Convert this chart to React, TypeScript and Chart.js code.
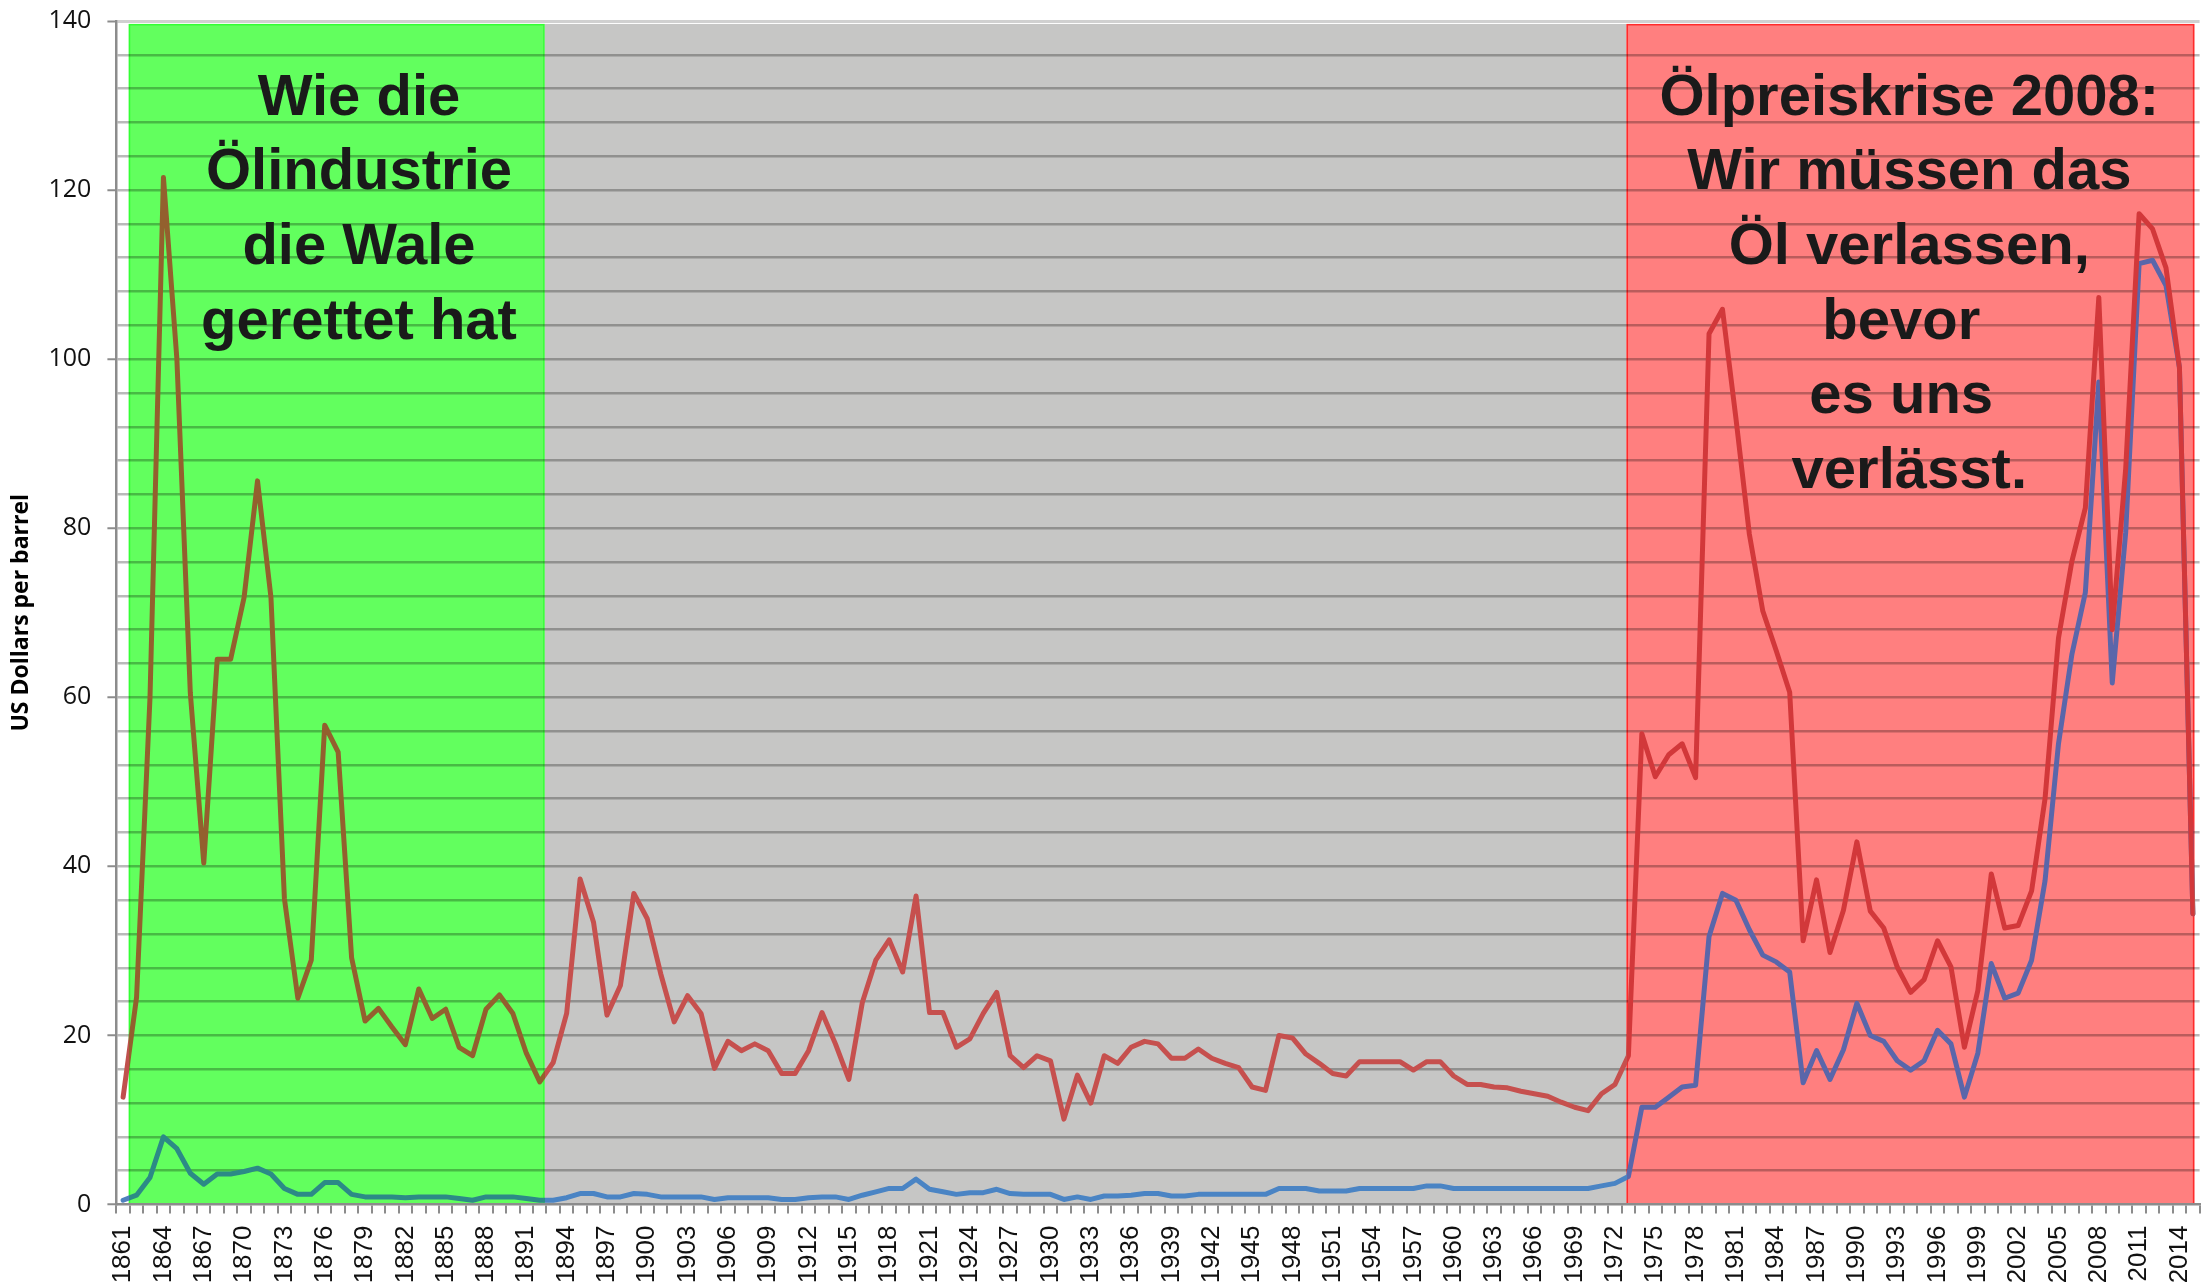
import React, { useEffect, useRef } from 'react';
import { Chart, registerables } from 'chart.js';

Chart.register(...registerables);

// Categories: one per year, 1861 … 2015
const FIRST_YEAR = 1861;
const YEARS: string[] = Array.from({ length: 155 }, (_, i) => String(FIRST_YEAR + i));

// Crude oil price, US$ per barrel (money of the day of the latest year)
const REAL_PRICE = [
  12.7, 24.5, 60.0, 121.5, 100.0, 60.5, 40.4, 64.5, 64.5, 71.8, // 1861-1870
  85.6, 71.8, 36.2, 24.4, 28.9, 56.7, 53.5, 29.2, 21.7, 23.2, // 1871-1880
  21.0, 18.9, 25.5, 22.0, 23.1, 18.6, 17.6, 23.1, 24.8, 22.6, // 1881-1890
  17.9, 14.5, 16.8, 22.6, 38.5, 33.4, 22.4, 25.9, 36.8, 33.8, // 1891-1900
  27.3, 21.6, 24.7, 22.6, 16.1, 19.3, 18.2, 19.0, 18.2, 15.5, // 1901-1910
  15.5, 18.2, 22.7, 19.0, 14.8, 23.9, 28.9, 31.3, 27.5, 36.5, // 1911-1920
  22.7, 22.7, 18.6, 19.6, 22.6, 25.1, 17.6, 16.2, 17.6, 17.0, // 1921-1930
  10.1, 15.3, 12.0, 17.6, 16.7, 18.6, 19.3, 19.0, 17.3, 17.3, // 1931-1940
  18.4, 17.3, 16.7, 16.2, 13.9, 13.5, 20.0, 19.7, 17.8, 16.7, // 1941-1950
  15.5, 15.2, 16.9, 16.9, 16.9, 16.9, 15.9, 16.9, 16.9, 15.2, // 1951-1960
  14.2, 14.2, 13.9, 13.8, 13.4, 13.1, 12.8, 12.1, 11.5, 11.1, // 1961-1970
  13.1, 14.2, 17.6, 55.7, 50.6, 53.2, 54.5, 50.5, 103.0, 105.9, // 1971-1980
  93.0, 79.3, 70.2, 65.5, 60.6, 31.2, 38.4, 29.8, 34.8, 42.9, // 1981-1990
  34.7, 32.7, 28.1, 25.1, 26.6, 31.2, 28.1, 18.6, 25.3, 39.1, // 1991-2000
  32.7, 33.0, 37.1, 48.0, 67.0, 76.1, 82.4, 107.3, 68.0, 87.0, // 2001-2010
  117.2, 115.4, 110.8, 99.0, 34.4, // 2011-2015
];

// Crude oil price, US$ per barrel (money of the day)
const NOMINAL_PRICE = [
  0.5, 1.1, 3.2, 8.0, 6.6, 3.7, 2.4, 3.6, 3.6, 3.9, // 1861-1870
  4.3, 3.6, 1.9, 1.2, 1.2, 2.6, 2.6, 1.2, 0.9, 0.9, // 1871-1880
  0.9, 0.8, 0.9, 0.9, 0.9, 0.7, 0.5, 0.9, 0.9, 0.9, // 1881-1890
  0.7, 0.5, 0.5, 0.8, 1.3, 1.3, 0.9, 0.9, 1.3, 1.2, // 1891-1900
  0.9, 0.9, 0.9, 0.9, 0.6, 0.8, 0.8, 0.8, 0.8, 0.6, // 1901-1910
  0.6, 0.8, 0.9, 0.9, 0.6, 1.1, 1.5, 1.9, 1.9, 3.0, // 1911-1920
  1.8, 1.5, 1.2, 1.4, 1.4, 1.8, 1.3, 1.2, 1.2, 1.2, // 1921-1930
  0.6, 0.9, 0.6, 1.0, 1.0, 1.1, 1.3, 1.3, 1.0, 1.0, // 1931-1940
  1.2, 1.2, 1.2, 1.2, 1.2, 1.2, 1.9, 1.9, 1.9, 1.6, // 1941-1950
  1.6, 1.6, 1.9, 1.9, 1.9, 1.9, 1.9, 2.2, 2.2, 1.9, // 1951-1960
  1.9, 1.9, 1.9, 1.9, 1.9, 1.9, 1.9, 1.9, 1.9, 1.9, // 1961-1970
  2.2, 2.5, 3.3, 11.5, 11.5, 12.7, 13.9, 14.1, 31.7, 36.8, // 1971-1980
  36.0, 32.5, 29.5, 28.7, 27.5, 14.4, 18.2, 14.8, 18.3, 23.8, // 1981-1990
  20.0, 19.3, 17.0, 15.9, 17.0, 20.6, 19.0, 12.7, 17.9, 28.5, // 1991-2000
  24.4, 25.0, 28.9, 38.3, 54.5, 65.1, 72.4, 97.3, 61.7, 79.5, // 2001-2010
  111.3, 111.7, 108.7, 99.0, 34.4, // 2011-2015
];

// Y-axis labels (grid every 4, labels every 20)
const Y_LABELS = [0, 20, 40, 60, 80, 100, 120, 140];

// Highlighted periods (fractional years on the category axis)
const REGION_FROM = [1861.42, 1892.37, 1972.86];
const REGION_TO = [1892.37, 1972.86, 2015.11];
const REGION_TOP = 139.65;
const REGION_FILL = ['#62FF5E', '#C6C6C5', '#FF7F7F'];
const REGION_EDGE = ['#33FF33', '', '#FF2B2B'];

const REAL_COLORS = { base: '#C0504D', region: ['#93602E', '#C6504E', '#D2383A'] };
const NOMINAL_COLORS = { base: '#4F81BD', region: ['#2C8A86', '#4A84C4', '#5A66AA'] };

const LEFT_TEXT = ['Wie die', 'Ölindustrie', 'die Wale', 'gerettet hat'];
const RIGHT_TEXT = ['Ölpreiskrise 2008:', 'Wir müssen das', 'Öl verlassen,', 'bevor ', 'es uns ', 'verlässt.'];
const LEFT_TEXT_YEAR = 1878.55;
const RIGHT_TEXT_YEAR = 1993.9;
const TEXT_FIRST_BASELINE = 128.9;
const TEXT_LINE_STEP = 74.6;

const Y_TITLE = 'US Dollars per barrel';

const idxOf = (year: number) => year - FIRST_YEAR;

function lineGradient(chart: any, colors: { base: string; region: string[] }) {
  const area = chart.chartArea;
  const xs = chart.scales && chart.scales.x;
  if (!area || !xs) return colors.base;
  const w = area.right - area.left;
  const frac = (year: number) =>
    Math.min(1, Math.max(0, (xs.getPixelForValue(idxOf(year)) - area.left) / w));
  const g = chart.ctx.createLinearGradient(area.left, 0, area.right, 0);
  g.addColorStop(0, colors.base);
  REGION_FROM.forEach((from, i) => {
    const f0 = frac(from);
    const f1 = frac(REGION_TO[i]);
    g.addColorStop(f0, colors.base);
    g.addColorStop(f0, colors.region[i]);
    g.addColorStop(f1, colors.region[i]);
    g.addColorStop(f1, colors.base);
  });
  g.addColorStop(1, colors.base);
  return g;
}

const decorations = {
  id: 'decorations',
  beforeDraw(chart: any) {
    const { ctx, scales } = chart;
    const xs = scales.x;
    const ys = scales.y;
    ctx.save();
    ctx.fillStyle = '#ffffff';
    ctx.fillRect(0, 0, chart.width, chart.height);
    const top = ys.getPixelForValue(REGION_TOP);
    const bottom = ys.getPixelForValue(0);
    REGION_FROM.forEach((from, i) => {
      const x0 = xs.getPixelForValue(idxOf(from));
      const x1 = xs.getPixelForValue(idxOf(REGION_TO[i]));
      ctx.fillStyle = REGION_FILL[i];
      ctx.fillRect(x0, top, x1 - x0, bottom - top);
      if (REGION_EDGE[i]) {
        ctx.strokeStyle = REGION_EDGE[i];
        ctx.lineWidth = 1.5;
        ctx.strokeRect(x0 + 0.75, top + 0.75, x1 - x0 - 1.5, bottom - top - 1.5);
      }
    });
    ctx.restore();
  },
  afterDraw(chart: any) {
    const { ctx, scales, chartArea } = chart;
    const xs = scales.x;
    const ys = scales.y;
    ctx.save();
    ctx.fillStyle = '#1a1a1a';
    ctx.textAlign = 'center';
    ctx.textBaseline = 'alphabetic';
    ctx.font = 'bold 58px "Liberation Sans", Arial, sans-serif';
    const y0 = ys.getPixelForValue(TEXT_FIRST_BASELINE);
    const lx = xs.getPixelForValue(idxOf(LEFT_TEXT_YEAR));
    LEFT_TEXT.forEach((t, i) => ctx.fillText(t, lx, y0 + i * TEXT_LINE_STEP));
    const rx = xs.getPixelForValue(idxOf(RIGHT_TEXT_YEAR));
    RIGHT_TEXT.forEach((t, i) => ctx.fillText(t, rx, y0 + i * TEXT_LINE_STEP));

    // y-axis title
    ctx.font = 'bold 23px "Open Sans", sans-serif';
    ctx.fillStyle = '#000000';
    ctx.textBaseline = 'middle';
    ctx.translate(21, (chartArea.top + chartArea.bottom) / 2);
    ctx.rotate(-Math.PI / 2);
    ctx.fillText(Y_TITLE, 0, 0);
    ctx.restore();
  },
};

export default function App() {
  const canvasRef = useRef<HTMLCanvasElement | null>(null);

  useEffect(() => {
    const canvas = canvasRef.current;
    if (!canvas) return;
    const chart = new Chart(canvas, {
      type: 'line',
      data: {
        labels: YEARS,
        datasets: [
          {
            label: 'Real',
            data: REAL_PRICE,
            borderColor: (c: any) => lineGradient(c.chart, REAL_COLORS),
            borderWidth: 5,
            pointRadius: 0,
            tension: 0,
            borderJoinStyle: 'round',
            borderCapStyle: 'round',
            fill: false,
          },
          {
            label: 'Nominal',
            data: NOMINAL_PRICE,
            borderColor: (c: any) => lineGradient(c.chart, NOMINAL_COLORS),
            borderWidth: 5,
            pointRadius: 0,
            tension: 0,
            borderJoinStyle: 'round',
            borderCapStyle: 'round',
            fill: false,
          },
        ],
      },
      options: {
        responsive: false,
        animation: false,
        devicePixelRatio: 1,
        layout: { padding: { top: 21, right: 6.4, left: 0, bottom: 0 } },
        plugins: {
          legend: { display: false },
          tooltip: { enabled: false },
          title: { display: false },
        },
        scales: {
          x: {
            type: 'category',
            offset: true,
            grid: {
              display: true,
              offset: true,
              drawOnChartArea: false,
              drawTicks: true,
              tickLength: 9,
              color: '#8c8c8c',
              lineWidth: 2,
            },
            border: { display: true, color: '#8c8c8c', width: 2.5 },
            ticks: {
              autoSkip: false,
              maxRotation: 90,
              minRotation: 90,
              padding: 12,
              color: '#111111',
              font: { family: '"Liberation Sans", Arial, sans-serif', size: 26 },
              callback: (_v: any, i: number) => (i % 3 === 0 ? YEARS[i] : ''),
            },
            afterFit: (s: any) => {
              s.height = 79.5;
              s.paddingLeft = 0;
              s.paddingRight = 0;
            },
          },
          y: {
            min: 0,
            max: 140,
            ticks: {
              stepSize: 4,
              autoSkip: false,
              padding: 16,
              color: '#111111',
              font: { family: '"Open Sans", sans-serif', size: 25 },
              callback: (v: any) => (Y_LABELS.includes(Number(v)) ? String(v) : ''),
            },
            grid: {
              color: (c: any) =>
                c.tick && c.tick.value === 0
                  ? 'rgba(0,0,0,0)'
                  : c.tick && c.tick.value === 140
                  ? '#d0d0d0'
                  : 'rgba(0,0,0,0.27)',
              lineWidth: (c: any) => (c.tick && c.tick.value === 140 ? 3 : 2.5),
              drawTicks: true,
              tickLength: 9,
              tickWidth: 2,
              tickColor: (c: any) =>
                c.tick && Y_LABELS.includes(c.tick.value) ? '#8c8c8c' : 'rgba(0,0,0,0)',
            },
            border: { display: true, color: '#8c8c8c', width: 2.5 },
            afterFit: (s: any) => {
              s.width = 116.4;
              s.paddingTop = 0;
              s.paddingBottom = 0;
            },
          },
        },
      },
      plugins: [decorations],
    } as any);
    return () => chart.destroy();
  }, []);

  return (
    <div style={{ position: 'fixed', left: 0, top: 0, width: 2206, height: 1284, background: '#fff' }}>
      <canvas ref={canvasRef} width={2206} height={1284} style={{ display: 'block', width: 2206, height: 1284 }} />
    </div>
  );
}
